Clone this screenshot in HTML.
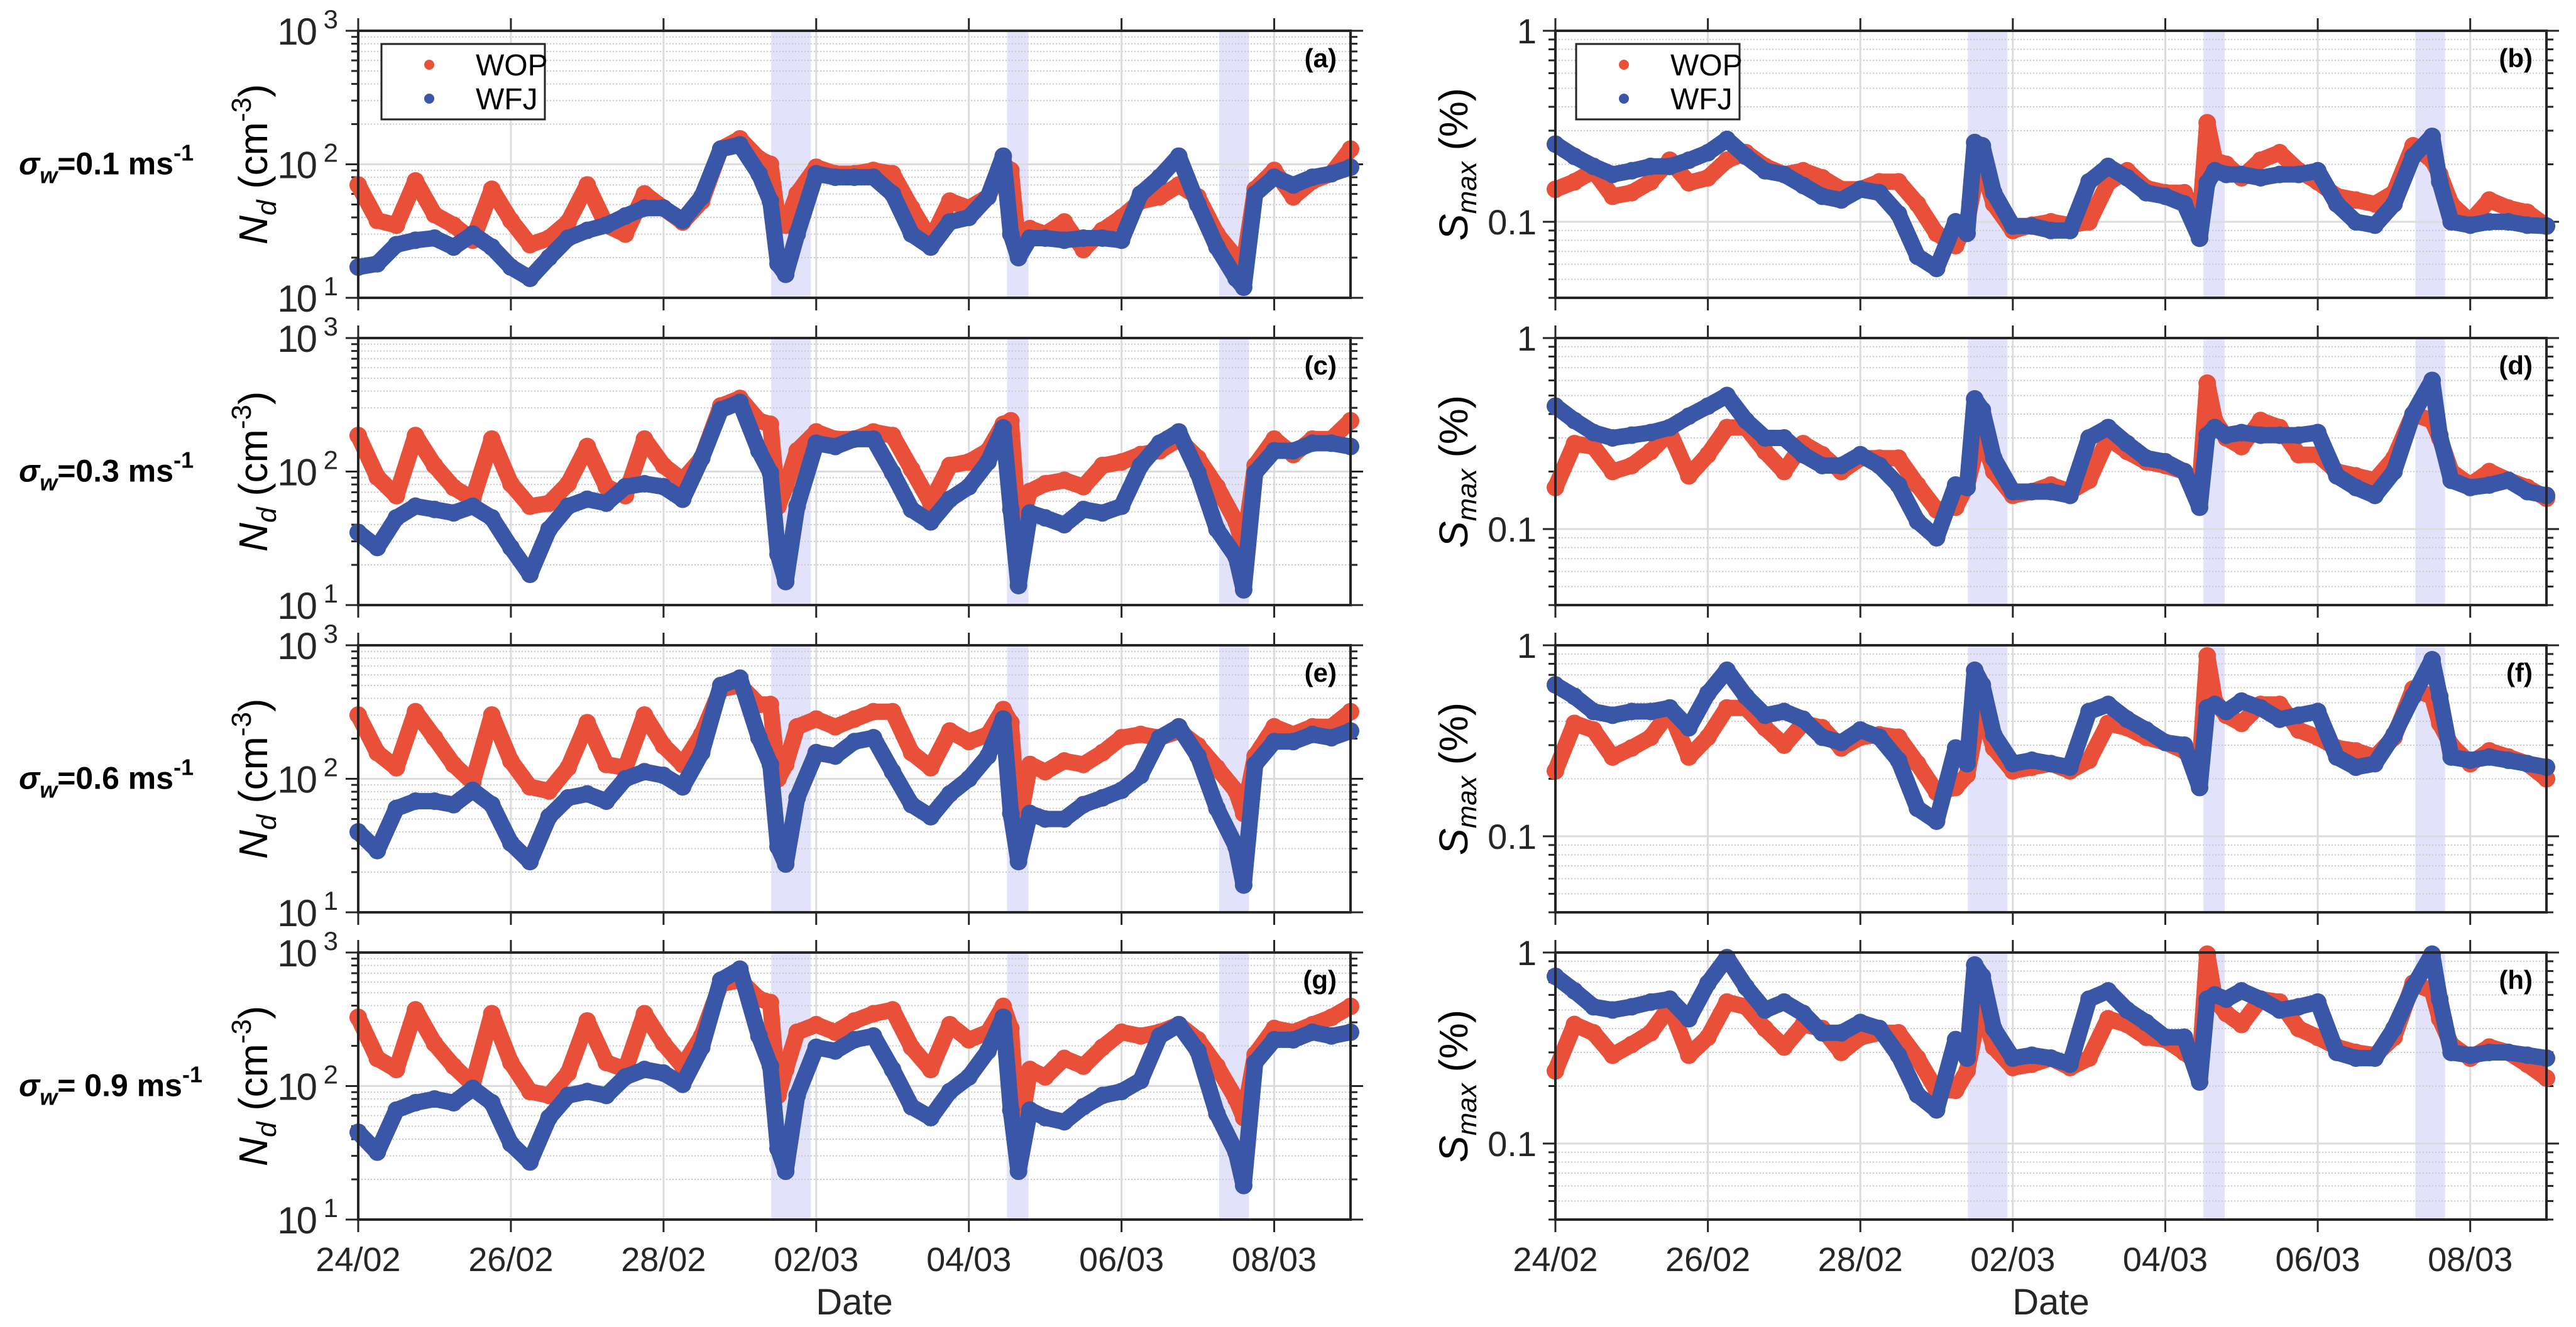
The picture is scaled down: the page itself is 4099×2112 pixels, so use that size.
<!DOCTYPE html>
<html><head><meta charset="utf-8">
<style>
html,body{margin:0;padding:0;background:#fff;}
svg{display:block;font-family:"Liberation Sans",Arial,sans-serif;}
</style></head>
<body>
<svg id="fig" width="4099" height="2112" viewBox="0 0 4099 2112" xmlns="http://www.w3.org/2000/svg"></svg>
<script>
// ---- data (days since 24/02 00:00) ----
const times=[0,0.25,0.5,0.75,1,1.25,1.5,1.75,2,2.25,2.5,2.75,3,3.25,3.5,3.75,4,4.25,4.5,4.75,5,5.25,5.4,5.5,5.6,5.75,6,6.25,6.5,6.75,7,7.25,7.5,7.75,8,8.25,8.45,8.55,8.65,8.8,9,9.25,9.5,9.75,10,10.25,10.5,10.75,11,11.25,11.5,11.6,11.75,12,12.25,12.5,12.75,13];
const xTickLabels=["24/02","26/02","28/02","02/03","04/03","06/03","08/03"];
const xTickDays=[0,2,4,6,8,10,12];
const shadedStart=[5.41,8.50,11.28];
const shadedEnd=[5.93,8.78,11.67];
const rowLabels=["0.1","0.3","0.6"," 0.9"];
const panelLetters=[["(a)","(c)","(e)","(g)"],["(b)","(d)","(f)","(h)"]];

const wopA=[70,38,35,75,42,35,27,65,38,25,28,37,70,35,30,60,47,37,53,130,155,110,100,38,35,60,95,85,85,90,85,47,27,53,47,57,100,90,23,33,30,37,23,32,40,53,57,70,57,30,20,18,65,90,57,75,85,130];
const wfjA=[17,18,25,27,28,24,30,24,17,14,20,28,32,35,41,47,47,38,57,130,140,85,53,18,15,30,85,80,80,80,60,30,24,37,40,57,115,30,20,28,28,27,28,28,27,60,80,115,50,24,14,12,60,80,70,80,85,95];
const wopC=[186,91,66,186,111,76,62,175,81,55,58,81,154,77,66,175,111,86,126,310,353,240,226,55,77,143,198,175,175,198,186,104,58,111,118,143,226,240,37,71,81,86,77,111,118,134,143,175,126,77,42,27,111,175,134,175,175,240];
const wfjC=[35,27,45,55,52,49,55,45,27,17,37,55,62,58,77,81,77,62,126,290,330,143,98,24,15,55,163,154,175,175,98,52,42,62,77,118,212,52,14,49,45,40,52,49,55,111,163,198,98,37,23,13,98,143,143,163,163,154];
const wopE=[300,157,121,318,203,128,94,300,136,87,81,121,263,128,121,300,177,128,215,470,500,360,360,100,128,245,280,245,280,318,318,157,121,228,190,215,330,263,43,128,113,136,128,157,203,215,203,228,177,121,81,55,148,245,215,245,245,318];
const wfjE=[40,29,60,68,68,64,82,64,33,24,52,72,77,68,100,113,106,87,157,500,567,203,128,31,23,72,157,148,190,203,113,64,52,77,100,148,280,55,24,55,50,50,64,72,82,106,203,245,148,60,31,16,128,190,190,215,203,228];
const wopG=[327,161,133,372,208,141,103,348,150,91,85,125,307,150,133,348,208,141,237,582,620,450,422,85,133,253,288,253,307,348,372,195,133,288,222,253,395,270,39,133,117,161,141,195,253,237,253,288,222,141,80,58,172,270,253,288,327,395];
const wfjG=[45,32,66,75,80,75,96,75,37,27,58,85,91,85,117,133,125,103,195,620,750,237,141,34,23,85,195,183,222,237,133,70,58,91,117,183,327,66,23,66,58,54,70,85,91,110,237,288,183,62,32,18,150,222,222,253,237,253];

const wopB=[0.148,0.162,0.185,0.136,0.142,0.162,0.21,0.16,0.17,0.21,0.23,0.195,0.177,0.185,0.17,0.148,0.148,0.162,0.162,0.124,0.087,0.075,0.1,0.16,0.195,0.124,0.09,0.096,0.1,0.096,0.1,0.16,0.185,0.15,0.142,0.142,0.1,0.33,0.21,0.2,0.17,0.21,0.23,0.185,0.162,0.136,0.13,0.124,0.142,0.25,0.21,0.177,0.124,0.1,0.13,0.118,0.112,0.095];
const wfjB=[0.255,0.22,0.195,0.177,0.185,0.195,0.195,0.21,0.23,0.27,0.22,0.185,0.177,0.155,0.136,0.13,0.148,0.142,0.11,0.066,0.057,0.1,0.087,0.26,0.25,0.142,0.095,0.095,0.09,0.09,0.162,0.195,0.17,0.142,0.136,0.124,0.082,0.16,0.185,0.177,0.177,0.17,0.177,0.177,0.185,0.124,0.1,0.096,0.124,0.22,0.28,0.162,0.1,0.096,0.1,0.1,0.096,0.095];
const wopD=[0.165,0.28,0.27,0.2,0.215,0.255,0.32,0.19,0.245,0.34,0.34,0.255,0.2,0.28,0.245,0.2,0.235,0.235,0.235,0.17,0.126,0.13,0.17,0.245,0.31,0.2,0.15,0.157,0.17,0.157,0.18,0.3,0.255,0.225,0.215,0.2,0.165,0.58,0.37,0.3,0.27,0.37,0.34,0.245,0.245,0.2,0.19,0.18,0.235,0.4,0.37,0.3,0.2,0.17,0.2,0.18,0.165,0.145];
const wfjD=[0.44,0.37,0.32,0.3,0.31,0.32,0.34,0.39,0.44,0.5,0.37,0.3,0.3,0.245,0.215,0.215,0.245,0.215,0.17,0.11,0.09,0.17,0.165,0.48,0.42,0.235,0.157,0.157,0.157,0.15,0.3,0.34,0.28,0.235,0.225,0.2,0.13,0.31,0.34,0.31,0.32,0.31,0.31,0.31,0.32,0.19,0.165,0.15,0.2,0.4,0.6,0.31,0.18,0.165,0.17,0.18,0.157,0.15];
const wopF=[0.22,0.39,0.36,0.26,0.29,0.33,0.45,0.26,0.33,0.47,0.47,0.37,0.3,0.39,0.37,0.29,0.33,0.34,0.33,0.24,0.17,0.18,0.21,0.34,0.45,0.29,0.22,0.23,0.24,0.22,0.25,0.39,0.37,0.33,0.31,0.28,0.23,0.88,0.51,0.43,0.39,0.49,0.49,0.36,0.33,0.29,0.28,0.26,0.33,0.59,0.54,0.39,0.3,0.24,0.28,0.26,0.24,0.2];
const wfjF=[0.62,0.54,0.45,0.43,0.45,0.45,0.47,0.37,0.56,0.74,0.54,0.43,0.45,0.41,0.33,0.31,0.36,0.33,0.25,0.14,0.12,0.29,0.24,0.74,0.62,0.34,0.24,0.25,0.24,0.23,0.45,0.49,0.41,0.36,0.31,0.3,0.18,0.47,0.49,0.45,0.51,0.47,0.41,0.43,0.45,0.26,0.23,0.24,0.34,0.54,0.84,0.54,0.26,0.25,0.26,0.25,0.24,0.23];
const wopH=[0.24,0.42,0.38,0.29,0.33,0.38,0.52,0.29,0.36,0.55,0.52,0.4,0.32,0.42,0.4,0.3,0.36,0.38,0.38,0.28,0.19,0.19,0.24,0.38,0.5,0.32,0.25,0.26,0.28,0.25,0.28,0.45,0.42,0.36,0.35,0.3,0.26,0.98,0.57,0.48,0.42,0.57,0.55,0.4,0.36,0.32,0.3,0.29,0.36,0.69,0.63,0.45,0.33,0.28,0.32,0.3,0.26,0.22];
const wfjH=[0.75,0.63,0.52,0.5,0.52,0.55,0.57,0.45,0.69,0.94,0.66,0.5,0.55,0.48,0.38,0.38,0.43,0.4,0.29,0.18,0.15,0.35,0.28,0.86,0.75,0.4,0.28,0.29,0.28,0.26,0.57,0.63,0.5,0.43,0.36,0.36,0.21,0.57,0.6,0.57,0.63,0.57,0.5,0.52,0.55,0.3,0.28,0.28,0.4,0.66,0.98,0.57,0.3,0.29,0.3,0.3,0.29,0.28];

const leftSeries=[[wopA,wfjA],[wopC,wfjC],[wopE,wfjE],[wopG,wfjG]];
const rightSeries=[[wopB,wfjB],[wopD,wfjD],[wopF,wfjF],[wopH,wfjH]];

// ---- layout ----
const NS="http://www.w3.org/2000/svg";
const svg=document.getElementById('fig');
const COL=[{x0:570,x1:2149},{x0:2475,x1:4052}];
const ROWT=[49,538,1027,1516],PH=425;
const DAYS=13;
const WOPC="#E8503A",WFJC="#3A56A6",AX="#262626";
function mk(tag,attrs,parent){const e=document.createElementNS(NS,tag);for(const k in attrs)e.setAttribute(k,attrs[k]);(parent||svg).appendChild(e);return e;}
function xScale(c,d){return COL[c].x0+(COL[c].x1-COL[c].x0)*d/DAYS;}
function yScale(c,top,v){const lo=c===0?1:Math.log10(0.04),hi=c===0?3:0;return top+PH*(hi-Math.log10(v))/(hi-lo);}

for(let c=0;c<2;c++){
 for(let r=0;r<4;r++){
  const top=ROWT[r],bot=top+PH,x0=COL[c].x0,x1=COL[c].x1;
  const g=mk('g',{});
  
  
  for(let i=0;i<shadedStart.length;i++){
   const s=mk('rect',{x:xScale(c,shadedStart[i]),y:top,width:xScale(c,shadedEnd[i])-xScale(c,shadedStart[i]),height:PH,fill:"#E2E3FB"},g);
   
   
  }
  const decades=c===0?[1,2]:[-2,-1];
  for(const d of decades){
   for(let m=1;m<10;m++){
    const v=Math.pow(10,d)*m;
    if(c===0&&(v<10||v>1000))continue;
    if(c===1&&(v<0.04||v>1))continue;
    const y=yScale(c,top,v);
    if(m===1){mk('line',{x1:x0,x2:x1,y1:y,y2:y,stroke:"#dcdcdc","stroke-width":3},g);}
    else mk('line',{x1:x0,x2:x1,y1:y,y2:y,stroke:"#c8c8c8","stroke-width":2,"stroke-dasharray":"2,3"},g);
    const tl=m===1?20:11;
    mk('line',{x1:x0-tl,x2:x0,y1:y,y2:y,stroke:AX,"stroke-width":3},g);
    mk('line',{x1:x1,x2:x1+tl,y1:y,y2:y,stroke:AX,"stroke-width":3},g);
   }
  }
  {const vt=c===0?1000:1;const y=yScale(c,top,vt);
   mk('line',{x1:x0-20,x2:x0,y1:y,y2:y,stroke:AX,"stroke-width":3},g);
   mk('line',{x1:x1,x2:x1+20,y1:y,y2:y,stroke:AX,"stroke-width":3},g);}
  for(let i=0;i<xTickDays.length;i++){
   const x=xScale(c,xTickDays[i]);
   if(i>0)mk('line',{x1:x,x2:x,y1:top,y2:bot,stroke:"#dcdcdc","stroke-width":3},g);
   mk('line',{x1:x,x2:x,y1:bot,y2:bot+20,stroke:AX,"stroke-width":3},g);
   mk('line',{x1:x,x2:x,y1:top-20,y2:top,stroke:AX,"stroke-width":3},g);
  }
  const ser=c===0?leftSeries[r]:rightSeries[r];
  const cols=[WOPC,WFJC],names=['wop','wfj'];
  for(let s=0;s<2;s++){
   let pts=times.map((t,i)=>xScale(c,t).toFixed(1)+','+yScale(c,top,ser[s][i]).toFixed(1)).join(' ');
   const pl=mk('polyline',{points:pts,fill:"none",stroke:cols[s],"stroke-width":26,"stroke-linejoin":"round","stroke-linecap":"round"},g);
   
   
   for(let i=0;i<times.length;i++){
    const d=mk('circle',{cx:xScale(c,times[i]),cy:yScale(c,top,ser[s][i]),r:14,fill:cols[s]},g);
    
    
   }
  }
  const bx=mk('rect',{x:x0,y:top,width:x1-x0,height:PH,fill:"none",stroke:AX,"stroke-width":4},g);
  
  
  if(c===0){
   for(const e of [1,2,3]){
    const y=yScale(c,top,Math.pow(10,e));
    const t=mk('text',{x:x0-68,y:y+22,"font-size":60,"text-anchor":"end",fill:AX,"letter-spacing":"-3"},g);
    t.textContent="10";
    
    
    const sp=mk('text',{x:x0-32,y:y-4,"font-size":42,"text-anchor":"end",fill:AX},g);
    sp.textContent=String(e);
    
    
   }
  } else {
   for(const v of [1,0.1]){
    const y=yScale(c,top,v);
    const t=mk('text',{x:x0-30,y:y+20,"font-size":56,"text-anchor":"end",fill:AX},g);
    t.textContent=v===1?"1":"0.1";
    
    
   }
  }
  const pl=mk('text',{x:x1-22,y:top+58,"font-size":42,"font-weight":"bold","text-anchor":"end",fill:"#000"},g);
  pl.textContent=panelLetters[c][r];
  
  
  const yl=mk('text',{transform:`translate(${c===0?425:2335},${top+PH/2}) rotate(-90)`,"font-size":64,"text-anchor":"middle",fill:"#000"},g);
  
  
  if(c===0){
   yl.innerHTML='<tspan font-style="italic">N</tspan><tspan font-style="italic" font-size="44" dy="14">d</tspan><tspan dy="-14"> (cm</tspan><tspan font-size="44" dy="-26">-3</tspan><tspan dy="26">)</tspan>';
  } else {
   yl.innerHTML='<tspan font-style="italic">S</tspan><tspan font-style="italic" font-size="44" dy="14">max</tspan><tspan dy="-14"> (%)</tspan>';
  }
  if(c===0){
   const rl=mk('text',{x:30,y:top+PH/2+16,"font-size":50,"font-weight":"bold",fill:"#000"},g);
   
   
   rl.innerHTML='<tspan font-style="italic">σ</tspan><tspan font-style="italic" font-size="36" dy="14">w</tspan><tspan dy="-14">='+rowLabels[r]+' ms</tspan><tspan font-size="36" dy="-22">-1</tspan>';
  }
  if(r===3){
   for(let i=0;i<xTickDays.length;i++){
    const t=mk('text',{x:xScale(c,xTickDays[i]),y:bot+82,"font-size":54,"text-anchor":"middle",fill:AX},g);
    t.textContent=xTickLabels[i];
    
    
   }
   const xl=mk('text',{x:(x0+x1)/2,y:2092,"font-size":58,"text-anchor":"middle",fill:AX},g);
   xl.textContent="Date";
   
   
  }
  if(r===0){
   const lx=c===0?607:2508;
   const lg=mk('g',{},g);
   
   
   mk('rect',{x:lx,y:70,width:260,height:120,fill:"#fff",stroke:AX,"stroke-width":3},lg);
   const entries=[["WOP",WOPC,103],["WFJ",WFJC,157]];
   for(const en of entries){
    const e=mk('g',{},lg);
    
    
    mk('circle',{cx:lx+76,cy:en[2],r:8,fill:en[1]},e);
    const t=mk('text',{x:lx+150,y:en[2]+17,"font-size":48,fill:"#000"},e);
    t.textContent=en[0];
   }
  }
 }
}
</script>
</body></html>
